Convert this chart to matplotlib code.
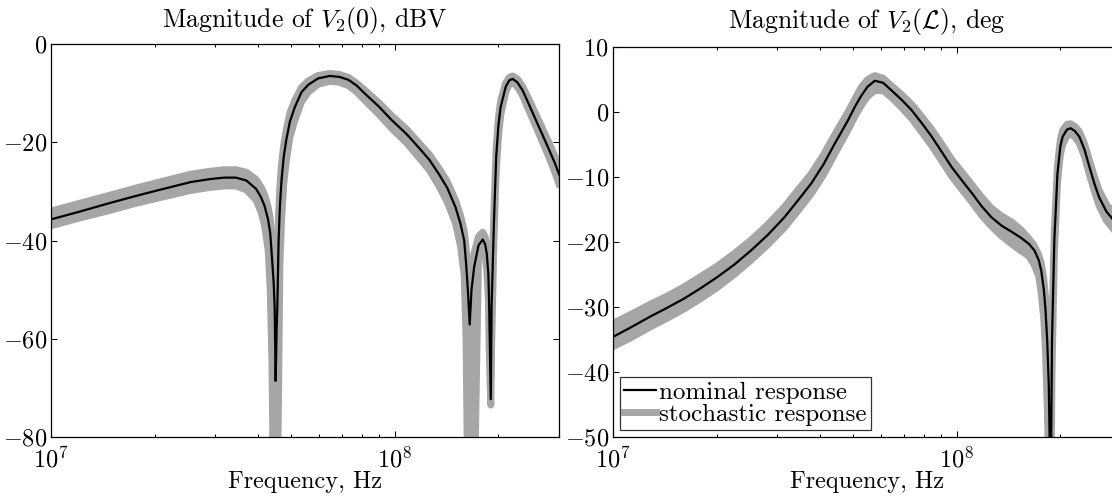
import matplotlib
matplotlib.use("Agg")
import matplotlib.pyplot as plt
from matplotlib.lines import Line2D

plt.rcParams['font.family'] = 'serif'
plt.rcParams['font.serif'] = ['cmr10']
plt.rcParams['mathtext.fontset'] = 'cm'
plt.rcParams['axes.formatter.use_mathtext'] = True

# ---------------- data: left panel (Magnitude of V2(0), dBV) ----------------
freq_left = [1.00e7, 1.20e7, 1.46e7, 1.75e7, 2.04e7, 2.55e7, 2.90e7, 3.19e7, 3.45e7,
             3.70e7, 3.95e7, 4.08e7, 4.18e7, 4.28e7, 4.34e7, 4.39e7, 4.44e7, 4.47e7,
             4.50e7, 4.53e7, 4.55e7, 4.59e7, 4.63e7, 4.68e7, 4.75e7, 4.83e7, 4.95e7,
             5.12e7, 5.35e7, 5.60e7, 5.98e7, 6.47e7, 6.90e7, 7.33e7, 7.75e7, 8.18e7,
             9.00e7, 9.79e7, 1.08e8, 1.17e8, 1.26e8, 1.34e8, 1.42e8, 1.50e8, 1.55e8,
             1.59e8, 1.61e8, 1.63e8, 1.65e8, 1.67e8, 1.70e8, 1.75e8, 1.80e8, 1.83e8,
             1.85e8, 1.87e8, 1.88e8, 1.90e8, 1.91e8, 1.94e8, 1.97e8, 2.00e8, 2.03e8,
             2.10e8, 2.15e8, 2.20e8, 2.27e8, 2.35e8, 2.45e8, 2.57e8, 2.69e8, 2.81e8,
             2.92e8, 3.00e8]
nominal_left = [-35.7, -34.2, -32.5, -31.0, -29.8, -28.1, -27.5, -27.2, -27.2,
                -27.8, -29.5, -31.2, -33.0, -35.8, -38.5, -43.4, -48.5, -53.6,
                -68.6, -58.0, -53.6, -40.0, -33.0, -27.8, -23.0, -19.6, -15.8,
                -12.8, -9.8, -8.3, -7.0, -6.5, -6.7, -7.3, -8.5, -10.1,
                -12.8, -15.5, -18.3, -21.0, -23.6, -26.4, -29.3, -33.2, -36.5,
                -40.0, -44.5, -50.2, -57.1, -50.0, -45.4, -41.0, -39.8, -40.8,
                -42.7, -47.0, -53.6, -72.3, -53.6, -36.6, -23.0, -16.5, -12.8,
                -8.7, -7.4, -7.1, -7.8, -9.4, -12.2, -15.5, -18.6, -21.6,
                -24.3, -26.5]
stoch_hi_left = [-34.0, -32.5, -30.9, -29.4, -28.2, -26.5, -25.9, -25.6, -25.6,
                 -26.1, -27.6, -29.1, -30.7, -33.2, -35.5, -39.5, -44.0, -48.0,
                 -58.0, -51.0, -46.0, -34.5, -29.0, -24.5, -20.5, -17.5, -14.0,
                 -11.4, -8.8, -7.5, -6.4, -6.0, -6.2, -6.8, -8.0, -9.4,
                 -12.0, -14.6, -17.3, -20.0, -22.5, -25.2, -28.0, -31.8, -34.8,
                 -38.0, -41.5, -46.0, -52.0, -46.5, -42.5, -39.2, -38.3, -39.3,
                 -41.0, -44.5, -50.0, -68.0, -50.0, -34.0, -21.0, -15.0, -11.5,
                 -7.9, -6.8, -6.5, -7.1, -8.6, -11.2, -14.3, -17.3, -20.2,
                 -22.9, -25.0]
stoch_lo_left = [-37.0, -35.5, -34.0, -32.5, -31.4, -29.8, -29.2, -28.9, -28.9,
                 -29.7, -31.8, -34.2, -37.0, -42.0, -50.0, -65.0, -95.0, -95.0,
                 -95.0, -95.0, -95.0, -70.0, -45.0, -36.0, -28.5, -24.0, -19.0,
                 -15.5, -11.8, -9.8, -8.2, -7.6, -7.8, -8.5, -9.8, -11.5,
                 -14.4, -17.2, -20.1, -23.0, -25.7, -28.8, -32.2, -36.5, -41.0,
                 -47.0, -60.0, -95.0, -95.0, -95.0, -95.0, -43.5, -41.5, -43.0,
                 -46.0, -52.0, -62.0, -73.5, -62.0, -40.0, -26.0, -19.0, -14.5,
                 -9.8, -8.2, -7.8, -8.7, -10.5, -13.5, -16.8, -20.1, -23.2,
                 -26.2, -28.5]

# ---------------- data: right panel (Magnitude of V2(L), deg) ----------------
freq_right = [1.00e7, 1.13e7, 1.28e7, 1.44e7, 1.61e7, 1.80e7, 2.01e7, 2.25e7, 2.52e7,
              2.82e7, 3.15e7, 3.45e7, 3.77e7, 4.10e7, 4.41e7, 4.82e7, 5.05e7, 5.27e7,
              5.50e7, 5.77e7, 6.10e7, 6.46e7, 6.90e7, 7.38e7, 7.90e7, 8.45e7, 9.05e7,
              9.66e7, 1.04e8, 1.11e8, 1.18e8, 1.26e8, 1.35e8, 1.45e8, 1.54e8, 1.62e8,
              1.68e8, 1.73e8, 1.76e8, 1.79e8, 1.81e8, 1.83e8, 1.85e8, 1.86e8, 1.87e8,
              1.88e8, 1.89e8, 1.92e8, 1.96e8, 2.00e8, 2.03e8, 2.09e8, 2.14e8, 2.20e8,
              2.27e8, 2.35e8, 2.43e8, 2.51e8, 2.59e8, 2.72e8, 2.88e8, 3.00e8]
nominal_right = [-34.6, -33.1, -31.5, -30.1, -28.7, -27.1, -25.4, -23.5, -21.3,
                 -18.9, -16.2, -13.6, -11.0, -8.0, -4.9, -1.3, 0.8, 2.5,
                 3.9, 4.8, 4.5, 3.3, 1.9, 0.3, -1.7, -3.8, -6.2,
                 -8.5, -10.7, -12.6, -14.5, -16.2, -17.5, -18.5, -19.4, -20.3,
                 -21.3, -22.8, -24.5, -27.4, -30.5, -35.1, -42.0, -50.0, -62.0,
                 -50.0, -35.1, -19.7, -9.5, -5.2, -3.8, -2.7, -2.5, -2.9,
                 -3.8, -5.8, -8.5, -11.0, -13.1, -15.3, -16.9, -18.0]
stoch_hi_right = [-32.5, -31.1, -29.6, -28.3, -26.9, -25.3, -23.7, -21.8, -19.7,
                  -17.3, -14.6, -12.0, -9.5, -6.5, -3.5, 0.0, 2.0, 3.8,
                  5.0, 5.6, 5.2, 4.0, 2.7, 1.2, -0.7, -2.7, -5.0,
                  -7.3, -9.4, -11.3, -13.1, -14.8, -16.0, -17.0, -18.2, -19.5,
                  -20.6, -22.0, -23.3, -25.8, -28.5, -32.5, -38.0, -45.0, -58.0,
                  -45.0, -33.0, -18.2, -8.3, -4.2, -2.8, -1.9, -1.8, -2.2,
                  -3.0, -4.9, -7.5, -9.9, -12.0, -14.2, -15.8, -17.0]
stoch_lo_right = [-36.1, -34.7, -33.1, -31.7, -30.3, -28.7, -27.0, -25.0, -22.8,
                  -20.4, -17.8, -15.2, -12.6, -9.6, -6.5, -2.8, -0.7, 1.0,
                  2.4, 3.3, 3.3, 2.2, 0.7, -1.0, -3.1, -5.2, -7.6,
                  -9.9, -12.1, -14.0, -15.9, -17.6, -19.1, -20.4, -21.4, -22.2,
                  -23.6, -25.3, -28.0, -32.0, -37.0, -45.0, -55.0, -62.0, -65.0,
                  -55.0, -40.0, -22.0, -11.0, -6.5, -5.0, -3.7, -3.4, -3.8,
                  -4.8, -6.9, -9.7, -12.2, -14.4, -16.7, -18.3, -19.4]

titles = [r'Magnitude of $V_2(0)$, dBV', r'Magnitude of $V_2(\mathcal{L})$, deg']
xlabel = 'Frequency, Hz'
legend_labels = ['nominal response', 'stochastic response']
ylims = [(-80, 0), (-50, 10)]
yticks = [[-80, -60, -40, -20, 0], [-50, -40, -30, -20, -10, 0, 10]]

GRAY = '#a6a6a6'
W, H = 1112, 499
fig = plt.figure(figsize=(W / 100, H / 100), dpi=100)

# axes rectangles in pixels: (left, top, right, bottom)
rects = [(51, 44, 559, 437), (613, 47, 1121, 437)]
axes = []
for (l, t, r, b) in rects:
    axes.append(fig.add_axes([l / W, 1 - b / H, (r - l) / W, (b - t) / H]))

panels = [(freq_left, nominal_left, stoch_hi_left, stoch_lo_left),
          (freq_right, nominal_right, stoch_hi_right, stoch_lo_right)]
pads = [12, 14]

for i, (ax, (f, nom, hi, lo)) in enumerate(zip(axes, panels)):
    ax.fill_between(f, lo, hi, color=GRAY, linewidth=0, zorder=1)
    ax.plot(f, hi, color=GRAY, lw=5, solid_joinstyle='round', zorder=1)
    ax.plot(f, lo, color=GRAY, lw=5, solid_joinstyle='round', zorder=1)
    ax.plot(f, nom, color='black', lw=1.6, solid_joinstyle='round', zorder=3)
    ax.set_xscale('log')
    ax.set_xlim(1e7, 3e8)
    ax.set_ylim(*ylims[i])
    ax.set_yticks(yticks[i])
    ax.tick_params(which='both', direction='in', top=True, right=True,
                   labelsize=17.5, width=0.75)
    ax.tick_params(which='major', length=4, pad=3)
    ax.tick_params(which='minor', length=2.5)
    ax.tick_params(axis='x', which='major', pad=7)
    for s in ax.spines.values():
        s.set_linewidth(0.9)
    ax.set_title(titles[i], fontsize=18.5, pad=pads[i])
    ax.set_xlabel(xlabel, fontsize=17.5, labelpad=-1)

leg_handles = [Line2D([], [], color='black', lw=1.6),
               Line2D([], [], color=GRAY, lw=5)]
leg = axes[1].legend(leg_handles, legend_labels, loc='lower left',
                     bbox_to_anchor=(0.0138, 0.018), borderaxespad=0,
                     fontsize=18, frameon=True, fancybox=False,
                     handlelength=1.3, handletextpad=0.12, borderpad=0.15,
                     labelspacing=0.0)
leg.get_frame().set_edgecolor('black')
leg.get_frame().set_linewidth(0.9)

fig.savefig('out.png', dpi=100)
